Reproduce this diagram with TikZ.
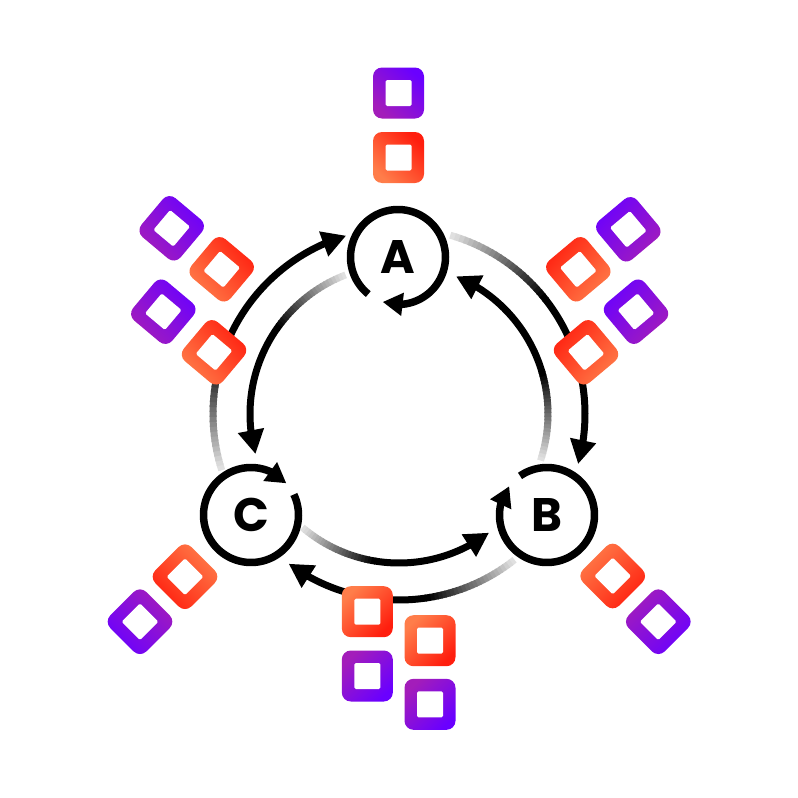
\documentclass[tikz,border=0pt]{standalone}
\usepackage{fontspec}
\newfontfamily\hubfont{Poppins}
\usetikzlibrary{arrows.meta}
\definecolor{tileblue}{HTML}{6A00FF}
\definecolor{tileplum}{HTML}{A31DBA}
\definecolor{tilered}{HTML}{FF1E0E}
\definecolor{tileorange}{HTML}{FF7D4A}
\tikzset{
  hub/.style={circle, minimum size=95pt, inner sep=0pt,
    font=\hubfont\bfseries\fontsize{47}{47}\selectfont},
  ring/.style={line width=7.5pt},
  ring tip/.style={line width=7.5pt, -{Triangle[length=20pt,width=22pt]}},
  trail/.style={line width=7pt, line cap=butt},
  link/.style={line width=7pt, -{Triangle[length=24pt,width=25pt]}},
  tile/.style={rectangle, minimum size=51pt, inner sep=0pt, rounded corners=9pt},
  hole/.style={rectangle, fill=white, minimum size=26pt, inner sep=0pt, rounded corners=1.5pt},
  plum tile/.style={top color=tileblue, bottom color=tileplum},
  ember tile/.style={top color=tilered, bottom color=tileorange}
}
% name, centre, rotation, shading angle, colour
\newcommand\placetile[5]{%
  \node[tile, #5, shading angle=#4, rotate=#3] (#1) at (#2) {};
  \node[hole, rotate=#3] (#1h) at (#1) {};
}

\begin{document}
\begin{tikzpicture}[x=1pt, y=-1pt]
\useasboundingbox (0,0) rectangle (798,798);

% Hubs
\coordinate (O) at (399,414);
\node[hub] (A) at (398,257) {A};
\node[hub] (B) at (547,515) {B};
\node[hub] (C) at (251,515) {C};

% Links, grey fading to black
\begin{scope}[shift={(O)}]
\foreach \s/\e/\rad in {162.4/253.5/186, 286/375.6/186, 51.6/126.4/186,
                        249/164.4/149, 18.2/-67.5/149, 130.4/52.8/149}{
  \pgfmathsetmacro\m{\s+0.4*(\e-\s)}
  \pgfmathsetmacro\dir{sign(\e-\s)}
  \pgfmathsetmacro\tb{\e-\dir*deg(24/\rad)}
  \pgfmathsetmacro\tc{\tb+\dir*1.5}
  \foreach \i in {0,...,23}{
    \pgfmathsetmacro\ta{\s+(\m-\s)*\i/24}
    \pgfmathsetmacro\tz{\s+(\m-\s)*(\i+1.3)/24}
    \pgfmathtruncatemacro\p{12+88*\i/23}
    \draw[trail, draw=black!\p] (\ta:\rad) -- (\tz:\rad);
  }
  \draw[trail] plot[domain=\m:\tc, samples=40] (\x:\rad);
  \draw[link] (\tb:\rad) -- (\e:\rad);
}
\end{scope}

% Rings round the hubs
\foreach \n/\s/\e in {A/128.7/468.8, B/235.4/577.3, C/334.4/678.1}{
  \begin{scope}[shift={(\n)}]
    \pgfmathsetmacro\tb{\e-deg(20/47.5)}
    \pgfmathsetmacro\tc{\tb+2}
    \draw[ring] plot[domain=\s:\tc, samples=100] (\x:47.5);
    \draw[ring tip] (\tb:47.5) -- (\e:47.5);
  \end{scope}
}

% Tiles
\placetile{top1}{398.5,93}{0}{-45}{plum tile}
\placetile{top2}{398.5,157.5}{0}{-45}{ember tile}

\placetile{ul1}{171.7,228.3}{50}{-50}{plum tile}
\placetile{ul2}{221.7,269.3}{50}{-50}{ember tile}
\placetile{ul3}{163.3,311.7}{50}{-50}{plum tile}
\placetile{ul4}{214,352.3}{50}{-50}{ember tile}

\placetile{ur1}{628.3,229.3}{-50}{50}{plum tile}
\placetile{ur2}{578.3,269.3}{-50}{50}{ember tile}
\placetile{ur3}{636,311.7}{-50}{50}{plum tile}
\placetile{ur4}{586,352.3}{-50}{50}{ember tile}

\placetile{ll1}{185,576.7}{45}{135}{ember tile}
\placetile{ll2}{140,621.7}{45}{135}{plum tile}

\placetile{lr1}{612.7,576}{-45}{-135}{ember tile}
\placetile{lr2}{658.3,621.7}{-45}{-135}{plum tile}

\placetile{bt1}{367.3,611.7}{0}{-135}{ember tile}
\placetile{bt2}{430,640.7}{0}{-135}{ember tile}
\placetile{bt3}{367.3,676}{0}{-135}{plum tile}
\placetile{bt4}{430,704.3}{0}{-135}{plum tile}
\end{tikzpicture}
\end{document}
